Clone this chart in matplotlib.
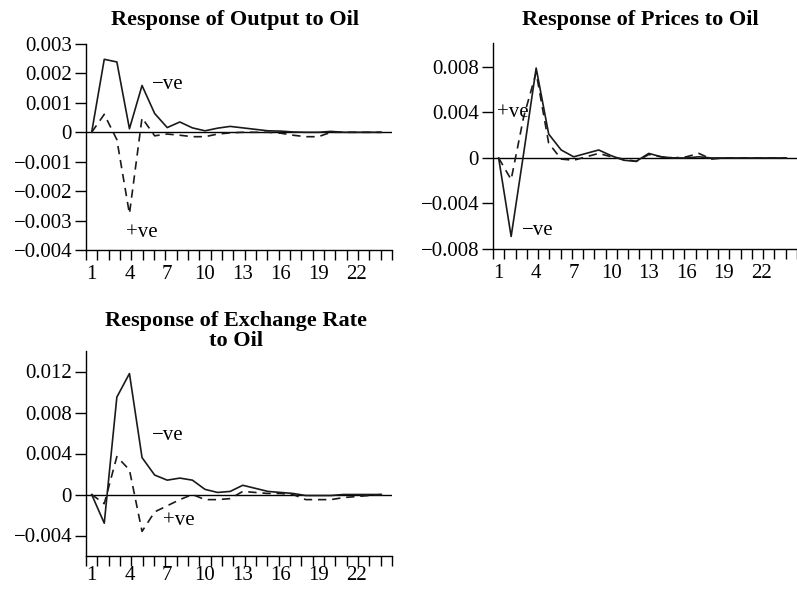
import numpy as np
import matplotlib
matplotlib.use('Agg')
import matplotlib.pyplot as plt

plt.rcParams['font.family'] = ['Liberation Serif', 'DejaVu Serif']
plt.rcParams['axes.unicode_minus'] = True

periods = np.arange(1, 25)
xlabels = [1, 4, 7, 10, 13, 16, 19, 22]

# impulse responses: neg = -ve oil shock (solid), pos = +ve oil shock (dashed)
output_neg = [0, 0.00248, 0.00239, 0.00012, 0.00159, 0.00064, 0.00016, 0.00035,
              0.00015, 0.00005, 0.00014, 0.0002, 0.00015, 0.0001, 0.00005, 0.00004,
              0.00001, 0.0, 0.0, 0.00003, 0.0, 0.0, 0.0, 0.0]
output_pos = [0, 0.00061, -0.00025, -0.00277, 0.00049, -0.00012, -0.00006, -0.0001,
              -0.00015, -0.00015, -0.00006, -0.00002, 0.0, 0.0, 0.0, -0.00003,
              -0.0001, -0.00015, -0.00015, 0.0, 0.0, 0.0, 0.0, 0.0]

prices_neg = [0, -0.0069, 0.0004, 0.0079, 0.0021, 0.0007, 0.0001, 0.0004,
              0.0007, 0.0002, -0.0002, -0.0003, 0.0004, 0.0001, 0.0, 0.0,
              0.0001, 0.0, 0.0, 0.0, 0.0, 0.0, 0.0, 0.0]
prices_pos = [0, -0.0019, 0.0036, 0.0075, 0.0013, -0.0001, -0.0002, 0.0001,
              0.0004, 0.0001, -0.0001, -0.0003, 0.0003, 0.0001, 0.0, 0.0001,
              0.0004, -0.0001, 0.0, 0.0, 0.0, 0.0, 0.0, 0.0]

exrate_neg = [0, -0.0028, 0.0095, 0.0118, 0.0036, 0.0019, 0.0014, 0.0016,
              0.0014, 0.0005, 0.0002, 0.0003, 0.0009, 0.0006, 0.0003, 0.0002,
              0.0001, -0.0001, -0.0001, -0.0001, 0.0, 0.0, 0.0, 0.0]
exrate_pos = [0, -0.0009, 0.0037, 0.0024, -0.0036, -0.0017, -0.0011, -0.0005,
              0.0, -0.0005, -0.0005, -0.0004, 0.0003, 0.0002, 0.0001, 0.0001,
              0.0, -0.0005, -0.0005, -0.0005, -0.0003, -0.0002, -0.0001, 0.0]

W, H = 797, 589
fig = plt.figure(figsize=(W / 100, H / 100), dpi=100)


def px_axes(left, top, right, bottom):
    return fig.add_axes([left / W, 1 - bottom / H, (right - left) / W, (bottom - top) / H])


def panel(ax, neg, pos, ylim, yticks, yticklabels, notes, xpad=11):
    ax.axhline(0, color='black', lw=1.0)
    ax.plot(periods, neg, color='#1a1a1a', lw=1.2)
    ax.plot(periods, pos, color='#1a1a1a', lw=1.2, ls=(0, (5, 3.5)))
    ax.set_xlim(0.55, 24.85)
    ax.set_ylim(*ylim)
    ax.spines['top'].set_visible(False)
    ax.spines['right'].set_visible(False)
    ax.set_yticks(yticks)
    ax.set_yticklabels(yticklabels)
    ax.set_xticks(xlabels)
    ax.set_xticklabels([str(v) for v in xlabels])
    ax.set_xticks(np.linspace(0.55, 24.85, 28), minor=True)
    ax.tick_params(axis='x', which='major', length=0, pad=xpad, labelsize=15)
    ax.tick_params(axis='x', which='minor', length=7, width=1.0, direction='out')
    ax.tick_params(axis='y', length=8, width=1.0, pad=2, labelsize=15)
    for s in ('left', 'bottom'):
        ax.spines[s].set_linewidth(1.0)
    for x, y, s in notes:
        ax.text(x, y, s, fontsize=15, va='center', ha='left')
    return ax


ax1 = px_axes(86, 44, 392, 250)
panel(ax1, output_neg, output_pos, (-0.004, 0.003),
      [-0.004, -0.003, -0.002, -0.001, 0, 0.001, 0.002, 0.003],
      ['−0.004', '−0.003', '−0.002', '−0.001', '0', '0.001', '0.002', '0.003'],
      [(5.75, 0.00163, '−ve'), (3.75, -0.0034, '+ve')])
fig.text(235 / W, 1 - 20 / H, 'Response of Output to Oil', fontsize=16,
         fontweight='bold', ha='center', va='center')

ax2 = px_axes(493, 43, 797, 249)
panel(ax2, prices_neg, prices_pos, (-0.008, 0.0101),
      [-0.008, -0.004, 0, 0.004, 0.008],
      ['−0.008', '−0.004', '0', '0.004', '0.008'],
      [(0.85, 0.004, '+ve'), (2.85, -0.0064, '−ve')])
fig.text(640 / W, 1 - 20 / H, 'Response of Prices to Oil', fontsize=16,
         fontweight='bold', ha='center', va='center')

ax3 = px_axes(86, 351, 392, 556)
panel(ax3, exrate_neg, exrate_pos, (-0.006, 0.014),
      [-0.004, 0, 0.004, 0.008, 0.012],
      ['−0.004', '0', '0.004', '0.008', '0.012'],
      [(5.75, 0.0058, '−ve'), (6.65, -0.0025, '+ve')], xpad=7)
fig.text(236 / W, 1 - 331 / H, 'Response of Exchange Rate\nto Oil', fontsize=16,
         fontweight='bold', ha='center', va='center', linespacing=1.05)

fig.savefig('out.png', dpi=100)
